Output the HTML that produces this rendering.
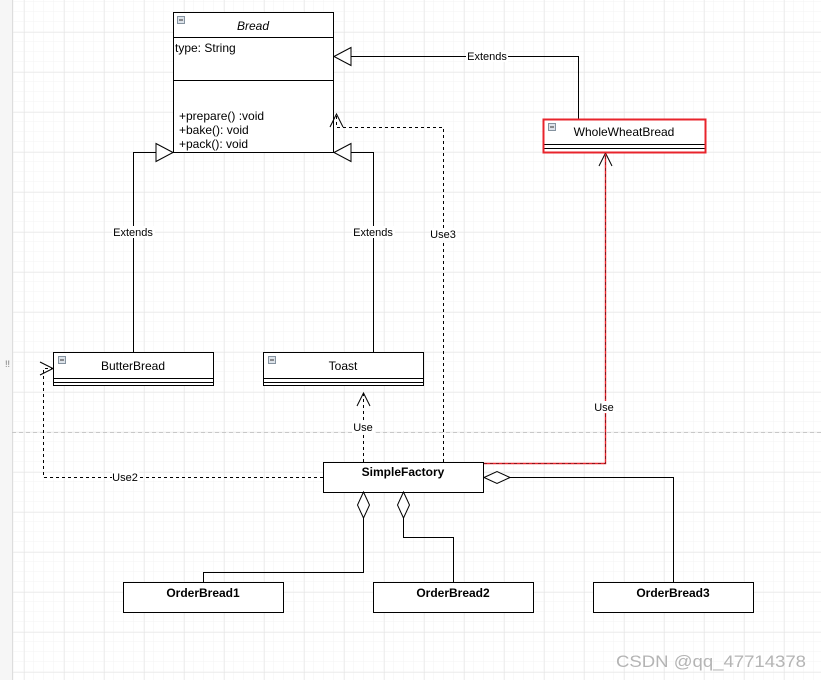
<!DOCTYPE html>
<html><head><style>
html,body{margin:0;padding:0;background:#fff;}
svg{display:block;font-family:"Liberation Sans",Arial,sans-serif;}
</style></head><body>
<svg width="821" height="680" viewBox="0 0 821 680" xmlns="http://www.w3.org/2000/svg">
<defs>
<pattern id="minor" x="4" y="2" width="10" height="10" patternUnits="userSpaceOnUse">
<path d="M10 0V10M0 10H10" stroke="#f3f3f3" stroke-width="1" fill="none"/>
</pattern>
<pattern id="major" x="24.5" y="32.5" width="40" height="40" patternUnits="userSpaceOnUse">
<path d="M0 0V40M0 0H40" stroke="#e2e2e2" stroke-width="1" fill="none"/>
</pattern>
</defs>
<rect width="821" height="680" fill="url(#minor)"/>
<rect width="821" height="680" fill="url(#major)"/>
<rect x="0" y="0" width="12" height="680" fill="#f6f6f6"/>
<line x1="12.5" y1="0" x2="12.5" y2="680" stroke="#ddd"/>
<line x1="12" y1="432.5" x2="821" y2="432.5" stroke="#c8c8c8" stroke-dasharray="4,3"/>
<text x="5" y="367" font-size="9" fill="#777">!!</text>

<g fill="none" stroke="#000" stroke-width="1">
<rect x="173.5" y="12.5" width="160" height="140" fill="#fff"/>
<line x1="173" y1="37.5" x2="334" y2="37.5"/>
<line x1="173" y1="80.5" x2="334" y2="80.5"/>
<rect x="543.5" y="119.5" width="162" height="33" fill="#fff"/>
<line x1="544" y1="144.5" x2="705" y2="144.5"/>
<line x1="544" y1="148.5" x2="705" y2="148.5"/>
<rect x="53.5" y="352.5" width="160" height="33" fill="#fff"/>
<line x1="53" y1="378.5" x2="214" y2="378.5"/>
<line x1="53" y1="382.5" x2="214" y2="382.5"/>
<rect x="263.5" y="352.5" width="160" height="33" fill="#fff"/>
<line x1="263" y1="378.5" x2="424" y2="378.5"/>
<line x1="263" y1="382.5" x2="424" y2="382.5"/>
<rect x="323.5" y="462.5" width="160" height="30" fill="#fff"/>
<rect x="123.5" y="582.5" width="160" height="30" fill="#fff"/>
<rect x="373.5" y="582.5" width="160" height="30" fill="#fff"/>
<rect x="593.5" y="582.5" width="160" height="30" fill="#fff"/>

<polyline points="578.5,119 578.5,56.5 351,56.5"/>
<polygon points="334,56.5 351,47.5 351,65.5" fill="#fff"/>
<polyline points="133.5,352 133.5,152.5 156,152.5"/>
<polygon points="173,152.5 156,143.5 156,161.5" fill="#fff"/>
<polyline points="373.5,352 373.5,152.5 351,152.5"/>
<polygon points="334,152.5 351,143.5 351,161.5" fill="#fff"/>

<g stroke-dasharray="3,3">
<polyline points="443.5,462 443.5,127.5 336.5,127.5 336.5,115"/>
<polyline points="363.5,462 363.5,394"/>
<polyline points="323,477.5 43.5,477.5 43.5,368.5 52,368.5"/>
</g>
<polyline points="330,127 336.5,114 343,127"/>
<polyline points="357,406 363.5,393 370,406"/>
<polyline points="40,362 53,368.5 40,375"/>
<polyline points="599,166 605.5,153 612,166"/>
<polyline points="484,463.5 605.5,463.5 605.5,154" stroke="#e8242c" stroke-width="1.4"/>
<polyline points="484,463.5 605.5,463.5 605.5,154" stroke="#000" stroke-dasharray="3,3" stroke-width="0.4"/>

<polygon points="363.5,492 369.5,505 363.5,518 357.5,505" fill="#fff"/>
<polyline points="363.5,518 363.5,572.5 203.5,572.5 203.5,582"/>
<polygon points="403.5,492 409.5,505 403.5,518 397.5,505" fill="#fff"/>
<polyline points="403.5,518 403.5,537.5 453.5,537.5 453.5,582"/>
<polygon points="484,477.5 497,471.5 510,477.5 497,483.5" fill="#fff"/>
<polyline points="510,477.5 673.5,477.5 673.5,582"/>
</g>
<rect x="543.5" y="119.5" width="162" height="33" fill="none" stroke="#e8242c" stroke-width="2"/>

<g fill="#dde3ea" stroke="#6a7a8a" stroke-width="0.8">
<rect x="177.5" y="16.5" width="7" height="7"/>
<rect x="548.5" y="123.5" width="7" height="7"/>
<rect x="58.5" y="356.5" width="7" height="7"/>
<rect x="268.5" y="356.5" width="7" height="7"/>
</g>
<g stroke="#333" stroke-width="1">
<line x1="179" y1="20" x2="183" y2="20"/><line x1="550" y1="127" x2="554" y2="127"/>
<line x1="60" y1="360" x2="64" y2="360"/><line x1="270" y1="360" x2="274" y2="360"/>
</g>

<g font-size="12" fill="#000">
<text x="253" y="30" text-anchor="middle" font-style="italic">Bread</text>
<text x="175" y="52">type: String</text>
<text x="179" y="120">+prepare() :void</text>
<text x="179" y="134">+bake(): void</text>
<text x="179" y="148">+pack(): void</text>
<text x="624" y="136" text-anchor="middle">WholeWheatBread</text>
<text x="133" y="370" text-anchor="middle">ButterBread</text>
<text x="343" y="370" text-anchor="middle">Toast</text>
<text x="403" y="476" text-anchor="middle" font-weight="bold">SimpleFactory</text>
<text x="203" y="597" text-anchor="middle" font-weight="bold">OrderBread1</text>
<text x="453" y="597" text-anchor="middle" font-weight="bold">OrderBread2</text>
<text x="673" y="597" text-anchor="middle" font-weight="bold">OrderBread3</text>
</g>
<g font-size="11" fill="#000" text-anchor="middle">
<rect x="466" y="50" width="42" height="12" fill="#fff"/>
<text x="487" y="60">Extends</text>
<rect x="112" y="226" width="43" height="12" fill="#fff"/>
<text x="133" y="236">Extends</text>
<rect x="352" y="226" width="43" height="12" fill="#fff"/>
<text x="373" y="236">Extends</text>
<rect x="430" y="228" width="27" height="12" fill="#fff"/>
<text x="443" y="238">Use3</text>
<rect x="352" y="421" width="23" height="12" fill="#fff"/>
<text x="363" y="431">Use</text>
<rect x="112" y="471" width="27" height="12" fill="#fff"/>
<text x="125" y="481">Use2</text>
<rect x="593" y="401" width="23" height="12" fill="#fff"/>
<text x="604" y="411">Use</text>
</g>
<text x="806" y="667" text-anchor="end" font-size="17" fill="#b4b4b4" textLength="190" lengthAdjust="spacingAndGlyphs">CSDN @qq_47714378</text>
</svg>
</body></html>
